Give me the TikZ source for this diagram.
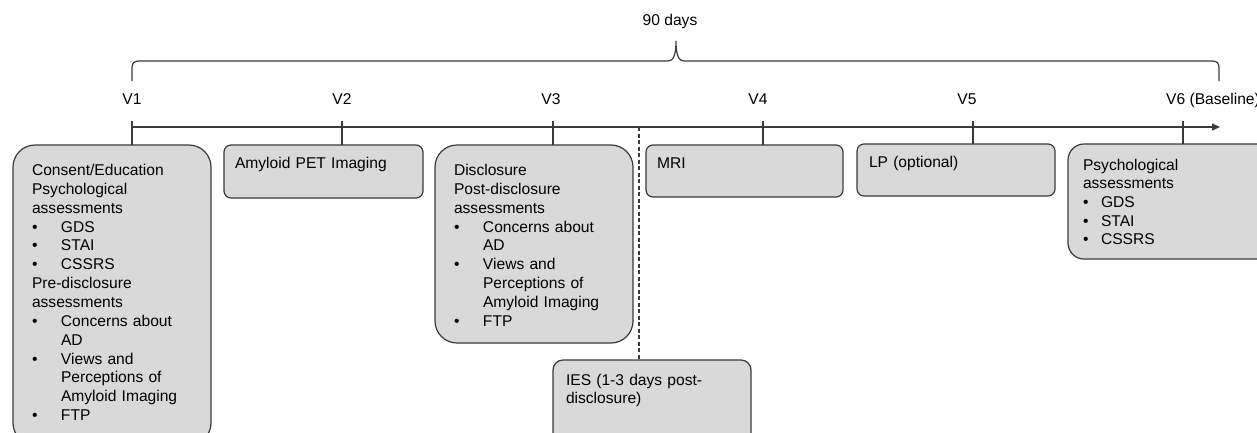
\documentclass[tikz,border=0pt]{standalone}
\usepackage{fontspec}
\setmainfont{Liberation Sans}
\usetikzlibrary{arrows.meta}
\definecolor{boxfill}{HTML}{D9D9D9}
\definecolor{edgecol}{HTML}{3A3A3A}
\newcommand{\bitem}[2][29pt]{\makebox[#1][l]{\textbullet}#2}
\newcommand{\bcont}[2][29pt]{\hspace*{#1}#2}
\begin{document}
\begin{tikzpicture}[x=1pt,y=-1pt,
  box/.style={draw=edgecol, fill=boxfill, line width=1.2pt, inner sep=0pt, outer sep=0pt, anchor=north west},
  txt/.style={inner sep=0pt, outer sep=0pt, anchor=base west, align=left, text width=200pt, font=\fontsize{15.6}{18.85}\selectfont},
  lbl/.style={inner sep=0pt, anchor=base, font=\fontsize{15.6}{18.85}\selectfont},
  conn/.style={draw=edgecol, line width=1.2pt},
  dashline/.style={draw=edgecol, line width=1.1pt, dash pattern=on 4pt off 2.5pt}]
\useasboundingbox (0,0) rectangle (1257,432);
\clip (0,0) rectangle (1257,432);

% boxes
\node[box, rounded corners=22pt, minimum width=198pt, minimum height=300pt] (b1) at (13,145) {};
\node[box, rounded corners=7pt, minimum width=199pt, minimum height=53pt] (b2) at (224,145) {};
\node[box, rounded corners=22pt, minimum width=198pt, minimum height=198pt] (b3) at (435,145) {};
\node[box, rounded corners=7pt, minimum width=197pt, minimum height=52pt] (b4) at (646,145) {};
\node[box, rounded corners=7pt, minimum width=198pt, minimum height=52pt] (b5) at (857,144) {};
\node[box, rounded corners=16pt, minimum width=205pt, minimum height=115pt] (b6) at (1068,144) {};
\node[box, rounded corners=10pt, minimum width=198pt, minimum height=90pt] (ies) at (553,360) {};

% box texts
\node[txt] (t1) at (32,175.5) {Consent/Education\\Psychological\\assessments\\\bitem{GDS}\\\bitem{STAI}\\\bitem{CSSRS}\\Pre-disclosure\\assessments\\\bitem{Concerns about}\\\bcont{AD}\\\bitem{Views and}\\\bcont{Perceptions of}\\\bcont{Amyloid Imaging}\\\bitem{FTP}};
\node[txt] (t2) at (235,168) {Amyloid PET Imaging};
\node[txt] (t3) at (454,175.5) {Disclosure\\Post-disclosure\\assessments\\\bitem{Concerns about}\\\bcont{AD}\\\bitem{Views and}\\\bcont{Perceptions of}\\\bcont{Amyloid Imaging}\\\bitem{FTP}};
\node[txt] (t4) at (657,168) {MRI};
\node[txt] (t5) at (869,167) {LP (optional)};
\node[txt, font=\fontsize{15.6}{18.7}\selectfont] (t6) at (1083,170) {Psychological\\assessments\\\bitem[18pt]{GDS}\\\bitem[18pt]{STAI}\\\bitem[18pt]{CSSRS}};
\node[txt, font=\fontsize{15.6}{18.7}\selectfont] (t7) at (566,385) {IES (1-3 days post-\\disclosure)};

% visit labels
\node[lbl] (l1) at (132,104) {V1};
\node[lbl] (l2) at (342,104) {V2};
\node[lbl] (l3) at (551,104) {V3};
\node[lbl] (l4) at (758,104) {V4};
\node[lbl] (l5) at (967,104) {V5};
\node[lbl, anchor=base west] (l6) at (1166,104) {V6 (Baseline)};
\node[lbl] (days) at (670,25) {90 days};

% timeline
\coordinate (tl0) at (132,127);
\coordinate (tl1) at (1220,127);
\draw[conn, -{Triangle[length=8pt,width=7pt]}] (tl0) -- (tl1);

% ticks
\coordinate (v1) at (132,121);
\coordinate (v2) at (342,121);
\coordinate (v3) at (553,121);
\coordinate (v4) at (763,121);
\coordinate (v5) at (973,121);
\coordinate (v6) at (1183,121);
\draw[conn] (v1) -- (v1 |- b1.north);
\draw[conn] (v2) -- (v2 |- b2.north);
\draw[conn] (v3) -- (v3 |- b3.north);
\draw[conn] (v4) -- (v4 |- b4.north);
\draw[conn] (v5) -- (v5 |- b5.north);
\draw[conn] (v6) -- (v6 |- b6.north);

% dashed separator
\coordinate (dz) at (639,127);
\draw[dashline] (dz) -- (dz |- ies.north);

% brace
\coordinate (bl) at (132,81);
\coordinate (br) at (1219,81);
\coordinate (bc) at (676,41);
\draw[conn] (bl) -- (132,68) .. controls (132,63) and (134,61) .. (139,61) -- (668,61)
  .. controls (673,61) and (676,56) .. (bc)
  .. controls (676,56) and (679,61) .. (684,61) -- (1212,61)
  .. controls (1217,61) and (1219,63) .. (1219,68) -- (br);
\end{tikzpicture}
\end{document}
